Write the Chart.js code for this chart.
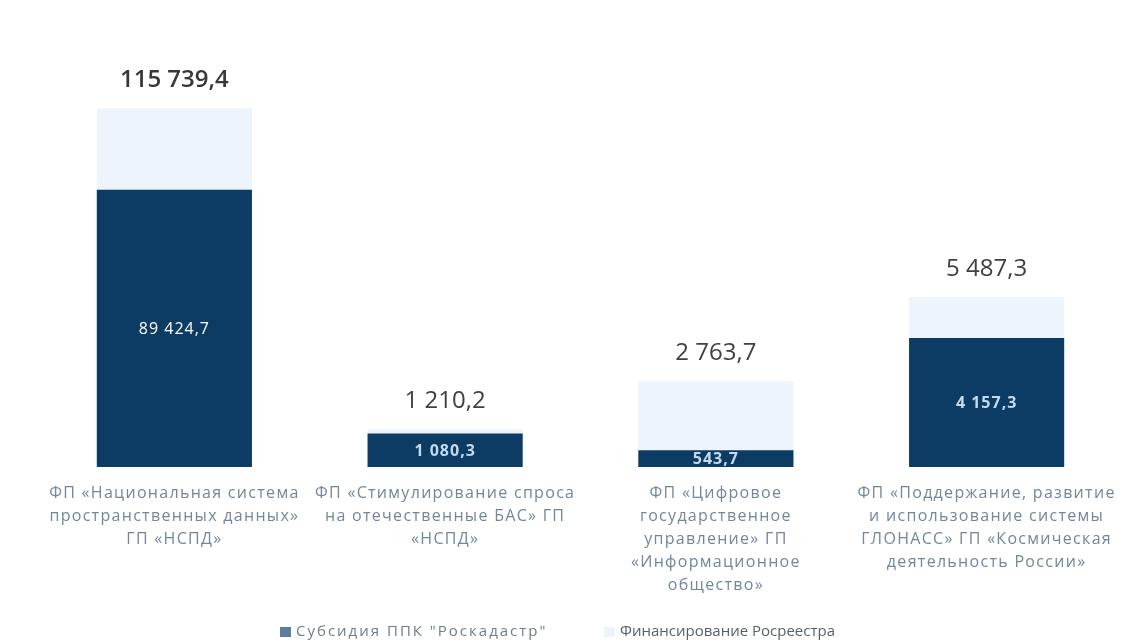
<!DOCTYPE html>
<html>
<head>
<meta charset="utf-8">
<script src="https://cdn.jsdelivr.net/npm/chart.js@4"></script>
<style>
  html, body { margin: 0; padding: 0; background: #fff; }
  #wrap { width: 1137px; height: 644px; position: relative; }
</style>
</head>
<body>
<div id="wrap"><canvas id="fundingChart"></canvas></div>
<script>
  // categories (x axis labels, split into lines)
  const categories = [
    ['ФП «Национальная система', 'пространственных данных»', 'ГП «НСПД»'],
    ['ФП «Стимулирование спроса', 'на отечественные БАС» ГП', '«НСПД»'],
    ['ФП «Цифровое', 'государственное', 'управление» ГП', '«Информационное', 'общество»'],
    ['ФП «Поддержание, развитие', 'и использование системы', 'ГЛОНАСС» ГП «Космическая', 'деятельность России»']
  ];
  const seriesNames = ['Субсидия ППК "Роскадастр"', 'Финансирование Росреестра'];
  const subsidy = [89424.7, 1080.3, 543.7, 4157.3];   // dark part
  const totals = [115739.4, 1210.2, 2763.7, 5487.3];  // full bar (label on top)
  // the first bar is drawn 10x compressed in the original, so it gets its own axis
  const onCompressedAxis = [true, false, false, false];

  const DARK = '#0c3b64';
  const LIGHT = '#edf4fb';

  const pick = (arr, big) => arr.map((v, i) => onCompressedAxis[i] === big ? v : null);
  const fmt = v => v.toLocaleString('ru-RU', { minimumFractionDigits: 1, maximumFractionDigits: 1 });

  // wide letter spacing for the axis labels (the original text is spaced out)
  const spacing = {
    id: 'spacing',
    beforeDraw(chart) { chart.ctx.letterSpacing = '1.3px'; }
  };

  // value labels: totals above the bar, subsidy inside the dark part
  const valueLabels = {
    id: 'valueLabels',
    afterDatasetsDraw(chart) {
      const ctx = chart.ctx;
      ctx.save();
      ctx.textAlign = 'center';
      ctx.textBaseline = 'middle';
      chart.data.datasets.forEach((ds, di) => {
        const meta = chart.getDatasetMeta(di);
        meta.data.forEach((bar, i) => {
          const v = ds.data[i];
          if (v == null) return;
          const big = onCompressedAxis[i];
          if (ds.kind === 'total') {
            ctx.letterSpacing = '0px';
            ctx.fillStyle = big ? '#383838' : '#404040';
            ctx.font = (big ? '600 ' : '400 ') + '24px "Open Sans"';
            ctx.fillText(fmt(v), bar.x, bar.y - 28);
          } else {
            ctx.letterSpacing = '1px';
            ctx.fillStyle = big ? '#ffffff' : '#c3daef';
            ctx.font = (big ? '400 ' : 'bold ') + '16px "Open Sans"';
            ctx.fillText(fmt(v), bar.x, (bar.y + bar.base) / 2 + 1);
          }
        });
      });
      ctx.restore();
    }
  };

  // legend row under the axis labels
  const legendRow = {
    id: 'legendRow',
    afterDraw(chart) {
      const ctx = chart.ctx;
      const y = chart.height - 12;
      const items = [
        { text: seriesNames[0], color: '#5d7d9c', x: 280, sp: '2px', ink: '#6d7d8b' },
        { text: seriesNames[1], color: LIGHT, x: 604, sp: '0px', ink: '#56606c' }
      ];
      ctx.save();
      ctx.textBaseline = 'middle';
      ctx.font = '15px "Open Sans"';
      items.forEach(it => {
        ctx.fillStyle = it.color;
        ctx.fillRect(it.x, y - 5, 11, 10);
        ctx.letterSpacing = it.sp;
        ctx.fillStyle = it.ink;
        ctx.fillText(it.text, it.x + 16, y);
      });
      ctx.restore();
    }
  };

  var ctx = document.getElementById('fundingChart').getContext('2d');
  var fundingChart = new Chart(ctx, {
    type: 'bar',
    data: {
      labels: categories,
      datasets: [
        { label: seriesNames[0], kind: 'sub', data: pick(subsidy, false), yAxisID: 'y', backgroundColor: DARK, order: 0, grouped: false },
        { label: seriesNames[1], kind: 'total', data: pick(totals, false), yAxisID: 'y', backgroundColor: LIGHT, order: 1, grouped: false },
        { label: seriesNames[0], kind: 'sub', data: pick(subsidy, true), yAxisID: 'y2', backgroundColor: DARK, order: 0, grouped: false },
        { label: seriesNames[1], kind: 'total', data: pick(totals, true), yAxisID: 'y2', backgroundColor: LIGHT, order: 1, grouped: false }
      ]
    },
    options: {
      responsive: true,
      maintainAspectRatio: false,
      animation: false,
      layout: { padding: { top: 95, left: 39, right: 15, bottom: 47 } },
      datasets: { bar: { categoryPercentage: 1, barPercentage: 0.573 } },
      scales: {
        x: {
          grid: { display: false, drawTicks: false },
          border: { display: false },
          ticks: {
            color: '#73869a',
            padding: 15,
            maxRotation: 0,
            autoSkip: false,
            font: { family: 'Open Sans', size: 16, lineHeight: 1.44 }
          },
          afterFit: s => { s.height = 130; }
        },
        y: { display: false, min: 0, max: 12000 },
        y2: { display: false, min: 0, max: 120000 }
      },
      plugins: {
        legend: { display: false },
        tooltip: { enabled: false }
      }
    },
    plugins: [spacing, valueLabels, legendRow]
  });
</script>
</body>
</html>
